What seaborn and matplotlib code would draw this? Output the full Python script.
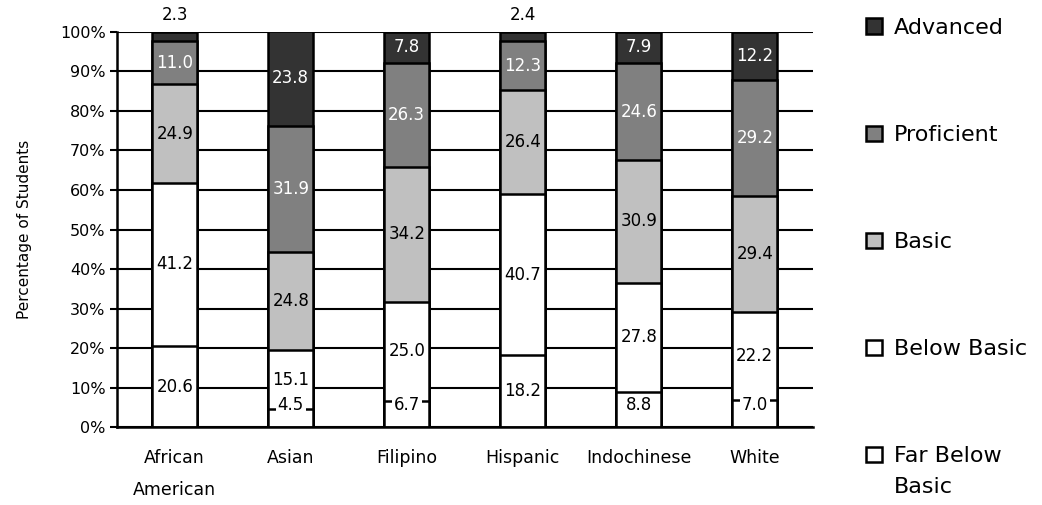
import numpy as np
import matplotlib
matplotlib.use("Agg")
import matplotlib.pyplot as plt
import seaborn as sns
from matplotlib.patches import Patch

# Achievement levels by ethnic group (percent of students)
groups = ["African\nAmerican", "Asian", "Filipino", "Hispanic", "Indochinese", "White"]
levels = ["Far Below Basic", "Below Basic", "Basic", "Proficient", "Advanced"]
far_below_basic = [20.6, 4.5, 6.7, 18.2, 8.8, 7.0]
below_basic = [41.2, 15.1, 25.0, 40.7, 27.8, 22.2]
basic = [24.9, 24.8, 34.2, 26.4, 30.9, 29.4]
proficient = [11.0, 31.9, 26.3, 12.3, 24.6, 29.2]
advanced = [2.3, 23.8, 7.8, 2.4, 7.9, 12.2]
level_colors = ["#FFFFFF", "#FFFFFF", "#C0C0C0", "#808080", "#333333"]
text_colors = ["black", "black", "black", "white", "white"]
y_ticks = list(range(0, 101, 10))

sns.set_theme(style="white")
plt.rcParams["font.family"] = ["DejaVu Sans"]
plt.rcParams.update({"text.color": "black", "axes.labelcolor": "black",
                     "xtick.color": "black", "ytick.color": "black"})

values = np.array([far_below_basic, below_basic, basic, proficient, advanced])
tops = values.cumsum(axis=0)

fig, ax = plt.subplots(figsize=(10.42, 5.05), dpi=100)
fig.subplots_adjust(left=0.112, right=0.780, top=0.937, bottom=0.154)

# Stacked bars: draw cumulative totals from the top level down
for i in reversed(range(len(levels))):
    sns.barplot(x=groups, y=tops[i], color=level_colors[i], saturation=1,
                edgecolor="black", linewidth=1.8, width=0.39, ax=ax, zorder=2)

ax.set_xlim(-0.5, len(groups) - 0.5)
ax.set_ylim(0, 100)
ax.set_yticks(y_ticks)
ax.set_yticklabels([f"{t}%" for t in y_ticks], fontsize=11.5)
ax.yaxis.grid(True, color="black", linewidth=1.5)
ax.set_axisbelow(True)

ax.set_xticks(range(len(groups)))
ax.set_xticklabels(groups, fontsize=12.5, linespacing=1.95)
ax.tick_params(axis="x", which="major", length=0, pad=16)
ax.set_xticks(np.arange(-0.5, len(groups), 1.0), minor=True)
ax.tick_params(axis="x", which="minor", length=6, width=1.5, direction="out", color="black")
ax.tick_params(axis="y", length=5, width=1.5, direction="out", color="black", left=True, pad=3)

for side in ["top", "right"]:
    ax.spines[side].set_visible(False)
for side in ["left", "bottom"]:
    ax.spines[side].set_color("black")
    ax.spines[side].set_linewidth(1.8)

ax.set_ylabel("Percentage of Students", fontsize=11, labelpad=20)

# Segment value labels
for i in reversed(range(len(levels))):
    for j in range(len(groups)):
        v = values[i, j]
        bottom = tops[i, j] - v
        y = bottom + v / 2
        color = text_colors[i]
        bbox = None
        if i == 4 and v < 5:
            y = 100 + 4.2
            color = "black"
        if i == 0:
            y = max(y, 5.5)
        if i in (0, 1):
            bbox = dict(facecolor="white", edgecolor="none", pad=1.5)
        ax.text(j, y, f"{v:.1f}", ha="center", va="center", fontsize=12,
                color=color, bbox=bbox, zorder=5, clip_on=False)

# Legend, top level first; the last label wraps onto a second line
legend_labels = ["Advanced", "Proficient", "Basic", "Below Basic", "Far Below"]
handles = [Patch(facecolor=level_colors[i], edgecolor="black", linewidth=1.8,
                 label=lab) for i, lab in zip(reversed(range(len(levels))), legend_labels)]
leg = fig.legend(handles=handles, loc="upper left",
                 bbox_to_anchor=(866 / 1042, 1 - 18 / 505),
                 frameon=False, fontsize=16, handlelength=0.7, handleheight=0.7,
                 handletextpad=0.55, labelspacing=3.92, borderaxespad=0, borderpad=0)
fig.canvas.draw()
last = leg.get_texts()[-1]
bb = last.get_window_extent()
fig.text(bb.x0 / fig.bbox.width, (bb.y0 - 11) / fig.bbox.height, "Basic",
         fontsize=16, ha="left", va="top", color="black")

fig.savefig("out.png", dpi=100)
